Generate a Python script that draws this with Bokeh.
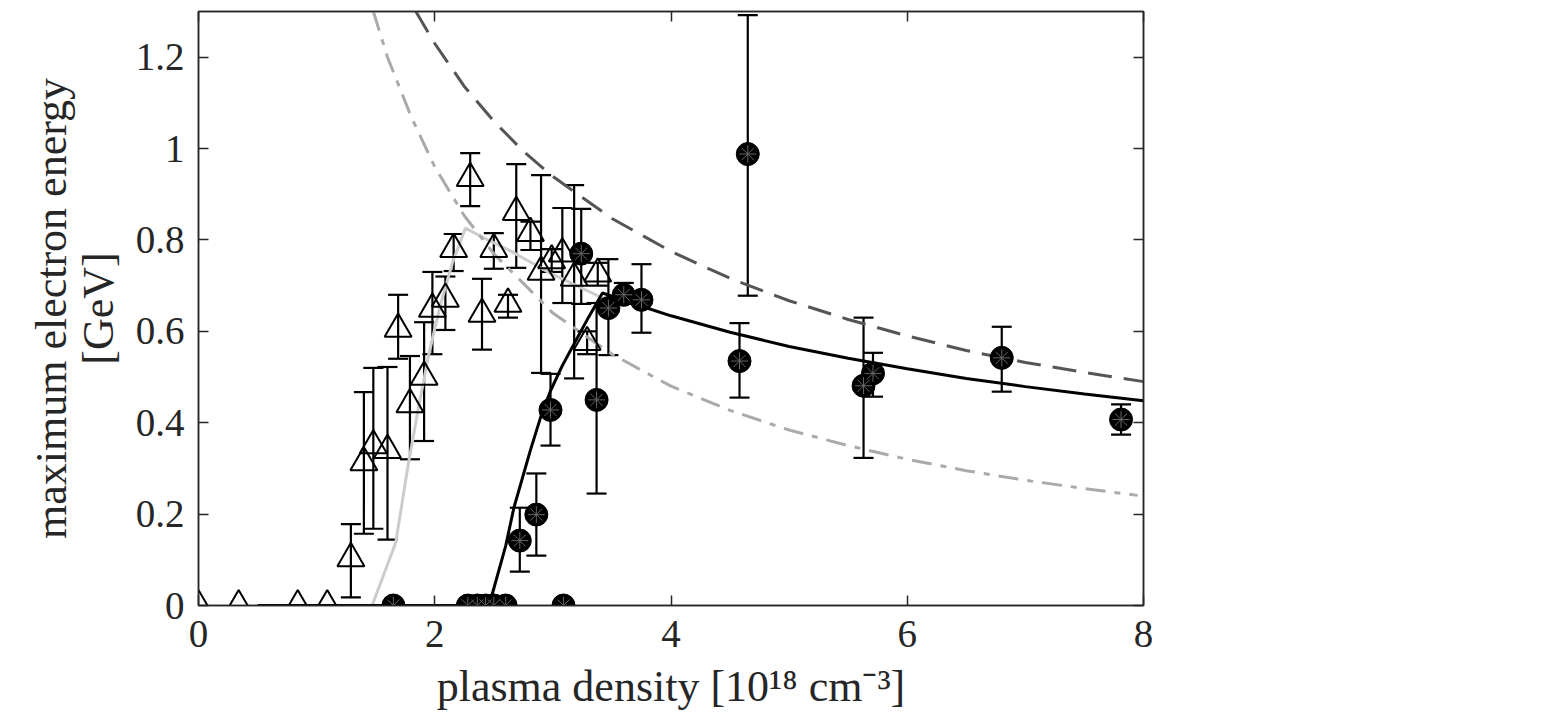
from bokeh.plotting import figure
from bokeh.models import (ColumnDataSource, Whisker, TeeHead, LinearAxis, FixedTicker,
                          NumeralTickFormatter, Range1d, CustomJSTickFormatter)
from bokeh.embed import file_html
from bokeh.resources import INLINE

# ---- data: open triangles (series A) ----
tri_x = [0.0, 0.34, 0.84, 1.09, 1.29, 1.40, 1.48, 1.60, 1.69, 1.79, 1.91, 1.98, 2.09,
         2.16, 2.30, 2.40, 2.50, 2.62, 2.69, 2.81, 2.90, 2.99, 3.08, 3.18, 3.29, 3.38]
tri_y = [0.0, 0.0, 0.0, 0.0, 0.103, 0.313, 0.35, 0.34, 0.605, 0.44, 0.50, 0.649, 0.671,
         0.78, 0.935, 0.638, 0.78, 0.66, 0.861, 0.815, 0.73, 0.755, 0.77, 0.717, 0.576, 0.726]
tri_lo = [0.0, 0.0, 0.0, 0.0, 0.018, 0.157, 0.168, 0.144, 0.54, 0.32, 0.36, 0.55, 0.603,
          0.732, 0.874, 0.56, 0.737, 0.63, 0.739, 0.778, 0.509, 0.73, 0.662, 0.497, 0.55, 0.70]
tri_hi = [0.0, 0.0, 0.0, 0.0, 0.178, 0.467, 0.52, 0.522, 0.68, 0.546, 0.62, 0.73, 0.72,
          0.813, 0.99, 0.715, 0.815, 0.68, 0.966, 0.84, 0.942, 0.78, 0.87, 0.92, 0.60, 0.75]

# ---- data: filled circles (series B) ----
cir_x = [1.65, 2.28, 2.36, 2.43, 2.50, 2.60, 3.09, 2.72, 2.86, 2.98, 3.24, 3.37, 3.47,
         3.60, 3.75, 4.58, 4.65, 5.63, 5.71, 6.80, 7.81]
cir_y = [0.0, 0.0, 0.0, 0.0, 0.0, 0.0, 0.0, 0.142, 0.199, 0.428, 0.77, 0.45, 0.651,
         0.68, 0.669, 0.535, 0.988, 0.481, 0.508, 0.542, 0.407]
cir_lo = [0.0, 0.0, 0.0, 0.0, 0.0, 0.0, 0.0, 0.074, 0.109, 0.35, 0.66, 0.245, 0.548,
          0.66, 0.597, 0.455, 0.678, 0.323, 0.457, 0.468, 0.374]
cir_hi = [0.0, 0.0, 0.0, 0.0, 0.0, 0.0, 0.0, 0.214, 0.289, 0.507, 0.868, 0.662, 0.758,
          0.706, 0.747, 0.618, 1.292, 0.63, 0.553, 0.61, 0.44]

# ---- model curves ----
black_x = [0.5, 2.46, 2.60, 2.67, 2.81, 2.90, 2.98, 3.08, 3.18, 3.30, 3.42, 3.60, 3.75,
           4.0, 4.5, 5.0, 5.5, 6.0, 6.5, 7.0, 7.5, 8.0]
black_y = [0.0, 0.0, 0.13, 0.214, 0.34, 0.415, 0.47, 0.525, 0.573, 0.63, 0.684, 0.668,
           0.655, 0.634, 0.598, 0.567, 0.541, 0.518, 0.497, 0.479, 0.463, 0.448]

gray_x = [1.47, 1.67, 1.77, 1.86, 1.95, 2.05, 2.15, 2.26, 2.45, 2.64, 2.82, 2.98, 3.20, 3.42]
gray_y = [0.0, 0.138, 0.30, 0.43, 0.55, 0.66, 0.75, 0.826, 0.80, 0.776, 0.75, 0.727, 0.70, 0.673]

dash_x = [1.84, 2.0, 2.25, 2.5, 2.75, 3.0, 3.5, 4.0, 4.5, 5.0, 5.5, 6.0, 6.5, 7.0, 7.5, 8.0]
dash_y = [1.30, 1.23, 1.136, 1.06, 0.994, 0.939, 0.847, 0.775, 0.716, 0.667, 0.626,
          0.59, 0.558, 0.532, 0.51, 0.49]

dashdot_x = [1.48, 1.6, 1.8, 2.0, 2.25, 2.5, 3.0, 3.5, 4.0, 4.5, 5.0, 5.5, 6.0, 6.5, 7.0, 7.5, 7.95]
dashdot_y = [1.30, 1.20, 1.07, 0.96, 0.853, 0.77, 0.64, 0.55, 0.48, 0.427, 0.384, 0.35,
             0.32, 0.295, 0.274, 0.256, 0.241]

x_ticks = [0, 2, 4, 6, 8]
y_ticks = [0, 0.2, 0.4, 0.6, 0.8, 1, 1.2]

FONT = "Liberation Serif"
AX = "#262626"

p = figure(width=1540, height=722, output_backend="svg", toolbar_location=None,
           x_range=Range1d(0, 8), y_range=Range1d(0, 1.3),
           min_border_left=198, min_border_right=397, min_border_top=11, min_border_bottom=117)
p.xgrid.visible = False
p.ygrid.visible = False
p.outline_line_color = AX
p.outline_line_width = 1.5
p.background_fill_color = "white"
p.border_fill_color = "white"

# curves
p.line(gray_x, gray_y, line_color="#cccccc", line_width=3)
p.line(dashdot_x, dashdot_y, line_color="#aaaaaa", line_width=3, line_dash="20 9 6 9")
p.line(dash_x, dash_y, line_color="#555555", line_width=3, line_dash="24 12")
p.line(black_x, black_y, line_color="black", line_width=3)

# error bars
def wsrc(xs, lo, hi):
    d = dict(x=[], lo=[], hi=[])
    for a, b, c in zip(xs, lo, hi):
        if c > b:
            d["x"].append(a); d["lo"].append(b); d["hi"].append(c)
    return ColumnDataSource(d)

for xs, lo, hi in [(tri_x, tri_lo, tri_hi), (cir_x, cir_lo, cir_hi)]:
    w = Whisker(source=wsrc(xs, lo, hi), base="x", lower="lo", upper="hi",
                line_color="black", line_width=2.2,
                upper_head=TeeHead(size=20, line_width=2.2, line_color="black"),
                lower_head=TeeHead(size=20, line_width=2.2, line_color="black"))
    p.add_layout(w)

# markers
p.scatter(tri_x, tri_y, marker="triangle", size=27, fill_color=None,
          line_color="black", line_width=2)
p.scatter(cir_x, cir_y, marker="circle", size=23, fill_color="black", line_color="black")
p.scatter(cir_x, cir_y, marker="asterisk", size=17, line_color="#666666", line_width=1)

# axes
def style(ax):
    ax.axis_line_color = AX
    ax.axis_line_width = 1.5
    ax.major_tick_line_color = AX
    ax.major_tick_line_width = 1.5
    ax.major_tick_in = 10
    ax.major_tick_out = 0
    ax.minor_tick_line_color = None
    ax.major_label_text_font = FONT
    ax.major_label_text_color = AX
    ax.major_label_text_font_size = "39px"
    ax.axis_label_text_font = FONT
    ax.axis_label_text_color = AX
    ax.axis_label_text_font_size = "44px"
    ax.axis_label_text_font_style = "normal"

p.xaxis.ticker = FixedTicker(ticks=x_ticks)
p.yaxis.ticker = FixedTicker(ticks=y_ticks)
p.yaxis.formatter = NumeralTickFormatter(format="0.[0]")
style(p.xaxis[0])
style(p.yaxis[0])
p.xaxis.major_label_standoff = 15
p.xaxis.axis_label = "plasma density [10¹⁸ cm⁻³]"
p.xaxis.axis_label_standoff = 12
p.yaxis.major_label_standoff = 14
p.yaxis.axis_label = "maximum electron energy\n[GeV]"
p.yaxis.axis_label_standoff = 10
p.yaxis.axis_label_text_line_height = 0.95

blank = CustomJSTickFormatter(code="return '';")
top = LinearAxis(ticker=FixedTicker(ticks=x_ticks), formatter=blank)
style(top)
top.major_label_standoff = 0
p.add_layout(top, "above")
right = LinearAxis(ticker=FixedTicker(ticks=y_ticks), formatter=blank)
style(right)
right.major_label_standoff = 0
p.add_layout(right, "right")

open("out.html", "w").write(file_html(p, INLINE))
